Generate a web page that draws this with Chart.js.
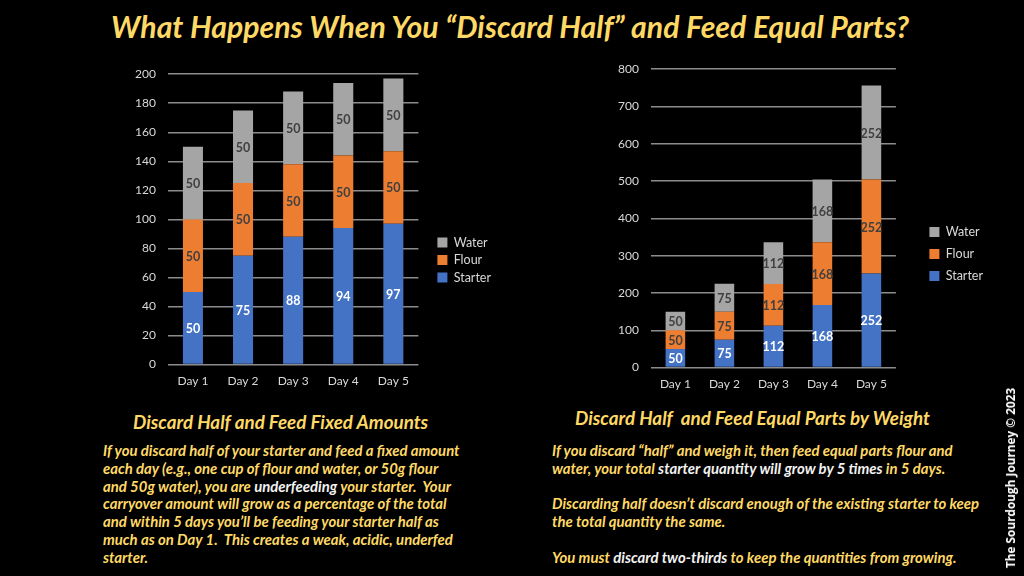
<!DOCTYPE html>
<html>
<head>
<meta charset="utf-8">
<script src="https://cdn.jsdelivr.net/npm/chart.js@4/dist/chart.umd.min.js"></script>
<style>
  html,body{margin:0;padding:0;background:#000;width:1024px;height:576px;overflow:hidden;}
  .abs{position:absolute;}
  #title{left:0;width:1020px;top:8px;text-align:center;color:#FFD966;font:italic bold 30.2px Lato, sans-serif;white-space:nowrap;}
  .head{color:#FFD966;font:italic bold 18.8px Lato, sans-serif;white-space:nowrap;}
  .para{color:#FFD966;font:italic bold 14.9px Lato, sans-serif;line-height:17.8px;white-space:nowrap;}
  .w{color:#F2F2F2;}
  #credit{left:1010px;top:478px;transform:translate(-50%,-50%) rotate(-90deg);color:#fff;font:bold 11.8px "Open Sans", sans-serif;white-space:nowrap;}
</style>
</head>
<body>
<div id="title" class="abs">What Happens When You “Discard Half” and Feed Equal Parts?</div>

<div class="abs" style="left:100px;top:55px;width:420px;height:334px;"><canvas id="c1" width="420" height="334"></canvas></div>
<div class="abs" style="left:590px;top:50px;width:420px;height:342px;"><canvas id="c2" width="420" height="342"></canvas></div>

<div class="abs head" style="left:133px;top:410px;">Discard Half and Feed Fixed Amounts</div>
<div class="abs para" style="left:103px;top:442px;">If you discard half of your starter and feed a fixed amount<br>each day (e.g., one cup of flour and water, or 50g flour<br>and 50g water), you are <span class="w">underfeeding</span> your starter.&nbsp; Your<br>carryover amount will grow as a percentage of the total<br>and within 5 days you’ll be feeding your starter half as<br>much as on Day 1.&nbsp; This creates a weak, acidic, underfed<br>starter.</div>

<div class="abs head" style="left:575px;top:406px;">Discard Half&nbsp; and Feed Equal Parts by Weight</div>
<div class="abs para" style="left:552px;top:442px;">If you discard “half” and weigh it, then feed equal parts flour and<br>water, your total <span class="w">starter quantity will grow by 5 times</span> in 5 days.<br>&nbsp;<br>Discarding half doesn’t discard enough of the existing starter to keep<br>the total quantity the same.<br>&nbsp;<br>You must <span class="w">discard two-thirds</span> to keep the quantities from growing.</div>

<div id="credit" class="abs">The Sourdough Journey © 2023</div>

<script>
const days = ["Day 1","Day 2","Day 3","Day 4","Day 5"];
// Left chart: discard half, feed fixed amounts
const fixedStarter = [50,75,88,94,97];
const fixedFlour   = [50,50,50,50,50];
const fixedWater   = [50,50,50,50,50];
// Right chart: discard half, feed equal parts by weight
const equalStarter = [50,75,112,168,252];
const equalFlour   = [50,75,112,168,252];
const equalWater   = [50,75,112,168,252];
const seriesNames = ["Starter","Flour","Water"];
const seriesColors = ["#4472C4","#ED7D31","#A5A5A5"];
const labelColors = ["#FFFFFF","#404040","#404040"];

const barLabels = {
  id:'barLabels',
  afterDatasetsDraw(chart){
    const ctx = chart.ctx;
    ctx.save();
    ctx.font = 'bold 12.5px Lato, sans-serif';
    ctx.textAlign = 'center';
    ctx.textBaseline = 'middle';
    chart.data.datasets.forEach((ds,i)=>{
      const meta = chart.getDatasetMeta(i);
      ctx.fillStyle = labelColors[i];
      meta.data.forEach((el,j)=>{
        ctx.fillText(String(ds.data[j]), el.x, (el.y+el.base)/2 + 1);
      });
    });
    ctx.restore();
  }
};

function makeChart(id, s, f, w, max, step, pad, shiftX, shiftY, legendPad){
  const data = [s,f,w];
  const legendShift = {
    id:'legendShift',
    afterLayout(chart){
      const lg = chart.legend;
      if(!lg) return;
      lg.left += shiftX; lg.right += shiftX;
      lg.top += shiftY; lg.bottom += shiftY;
    }
  };
  return new Chart(document.getElementById(id), {
    type:'bar',
    data:{
      labels:days,
      datasets:data.map((d,i)=>({label:seriesNames[i],data:d,backgroundColor:seriesColors[i],
        barPercentage:0.4,categoryPercentage:1.0}))
    },
    options:{
      responsive:false,animation:false,
      layout:{padding:pad},
      plugins:{
        legend:{position:'right',reverse:true,
          labels:{color:'#D9D9D9',font:{family:'Lato',size:12.5},boxWidth:10,boxHeight:10,padding:legendPad}},
        tooltip:{enabled:false}
      },
      scales:{
        x:{stacked:true,grid:{display:false},border:{display:false},
          ticks:{color:'#D9D9D9',font:{family:'Lato',size:12},padding:1}},
        y:{stacked:true,min:0,max:max,
          ticks:{stepSize:step,color:'#D9D9D9',font:{family:'Lato',size:12},padding:12},
          grid:{color:'#8C8C8C',lineWidth:1.5,drawTicks:false},
          border:{display:false}}
      }
    },
    plugins:[barLabels, legendShift]
  });
}
makeChart('c1', fixedStarter, fixedFlour, fixedWater, 200, 20, {top:10,right:33,left:23,bottom:0}, 14, 33, 5);
makeChart('c2', equalStarter, equalFlour, equalWater, 800, 100, {top:8,right:41,left:16,bottom:0}, 24, 29, 9.5);
</script>
</body>
</html>
